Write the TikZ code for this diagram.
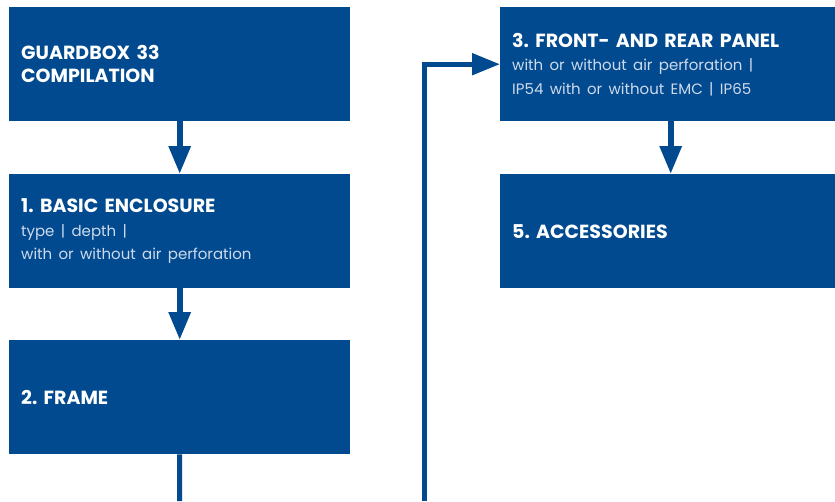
\documentclass[tikz,border=0pt]{standalone}
\usepackage{fontspec}
\setmainfont{Poppins}
\usetikzlibrary{arrows.meta}
\definecolor{gbblue}{RGB}{2,74,143}
\definecolor{gblight}{RGB}{205,218,236}
\newcommand\subtxt{\mdseries\fontsize{15}{23.5}\selectfont\color{gblight}}
\frenchspacing
\begin{document}
\begin{tikzpicture}[x=1pt,y=-1pt,
  box/.style={rectangle, fill=gbblue, inner xsep=12pt, inner ysep=0pt,
    minimum height=114pt, text width=317pt, align=left, anchor=north west,
    font=\bfseries\fontsize{19}{23.5}\selectfont, text=white},
  flow/.style={draw=gbblue, line width=6pt, -{Triangle[length=28pt,width=21pt]}},
  wire/.style={draw=gbblue, line width=5pt}]
\useasboundingbox (0,0) rectangle (835,501);
\clip (0,0) rectangle (835,501);
\node[box] (A) at (9,7) {GUARDBOX 33\\COMPILATION};
\node[box] (B) at (9,174) {1. BASIC ENCLOSURE\\{\subtxt type | depth |}\\{\subtxt with or without air perforation}};
\node[box] (C) at (9,340) {2. FRAME};
\node[box] (D) at (500,7) {3. FRONT- AND REAR PANEL\\{\subtxt with or without air perforation |}\\{\subtxt IP54 with or without EMC | IP65}};
\node[box] (E) at (500,174) {5. ACCESSORIES};
\coordinate (cEnd) at (179.5,501);
\coordinate (rEnd) at (424.5,501);
\draw[flow] (A.south) -- (B.north);
\draw[flow] (B.south) -- (C.north);
\draw[wire] (C.south) -- (cEnd);
\draw[wire, -{Triangle[length=28pt,width=21pt]}] (rEnd) |- (D.west);
\draw[flow] (D.south) -- (E.north);
\end{tikzpicture}
\end{document}
